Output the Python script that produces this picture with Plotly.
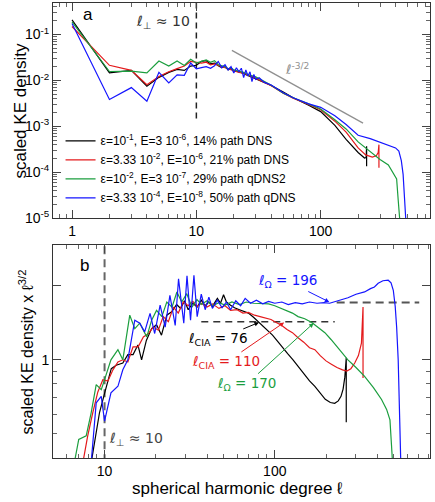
import math
import plotly.graph_objects as go

# ---------------------------------------------------------------------------
# Panel a : scaled KE density vs spherical harmonic degree
# ---------------------------------------------------------------------------
ell_a = [1, 2, 3, 4, 5, 6, 7, 8, 9, 10, 11, 12, 13, 14, 15, 16, 17, 18, 19, 20,
         22, 24, 26, 28, 30, 35, 40, 50, 60, 80, 100, 130, 160, 200]

ke_black_a = [0.21, 0.0147, 0.0166, 0.0075, 0.0117, 0.0150, 0.0174, 0.0166, 0.0206, 0.0215,
              0.026, 0.027, 0.023, 0.024, 0.021, 0.019, 0.020, 0.017, 0.018, 0.016,
              0.0155, 0.014, 0.0128, 0.012, 0.0112,
              0.0093, 0.0078, 0.0056, 0.0042, 0.0029, 0.0021, 0.00105, 0.00052, 0.00027]
ell_black_fin = [225, 232, 234, 234]
ke_black_fin = [2.05e-4, 2.1e-4, 3.7e-4, 1.35e-4]

ke_red_a = [0.15, 0.0214, 0.0166, 0.0081, 0.0122, 0.0155, 0.0181, 0.0206, 0.026, 0.0253,
            0.024, 0.025, 0.022, 0.023, 0.021, 0.020, 0.019, 0.018, 0.017, 0.0165,
            0.015, 0.0145, 0.013, 0.0123, 0.0113,
            0.0094, 0.0077, 0.0053, 0.0041, 0.0030, 0.0023, 0.0013, 0.00075, 0.00034]
ell_red_fin = [230, 260, 280, 290, 294, 294]
ke_red_fin = [2.4e-4, 2.15e-4, 2.3e-4, 2.7e-4, 4.0e-4, 1.26e-4]

ke_green_a = [0.19, 0.0157, 0.016, 0.0146, 0.0266, 0.0206, 0.0266, 0.0213, 0.029, 0.024,
              0.026, 0.028, 0.025, 0.027, 0.022, 0.021, 0.020, 0.018, 0.019, 0.017,
              0.016, 0.015, 0.0135, 0.0128, 0.012,
              0.0096, 0.0079, 0.0053, 0.0042, 0.0031, 0.0024, 0.0014, 0.00088, 0.00046]
ell_green_fin = [250, 300, 350, 408, 420, 434, 440]
ke_green_fin = [2.8e-4, 1.9e-4, 1.45e-4, 7.2e-5, 2.5e-5, 8e-6, 5e-6]

ell_blue_a = [1, 2, 3, 4, 5, 6, 7, 8, 9, 10, 11, 12, 13, 14, 15, 16, 17, 18, 19, 20,
              21, 22, 23, 24, 25, 26, 27, 28, 29, 30, 32, 35, 40, 50, 60, 80, 100, 130, 160, 200,
              250, 300, 350, 400, 425, 445, 460, 472, 485]
ke_blue_a = [0.174, 0.00385, 0.0070, 0.00355, 0.0151, 0.0089, 0.0133, 0.013, 0.024, 0.018,
             0.019, 0.020, 0.0185, 0.021, 0.026, 0.019, 0.022, 0.017, 0.020, 0.0145,
             0.019, 0.0155, 0.0185, 0.0115, 0.017, 0.0125, 0.0155, 0.0095, 0.0135, 0.0105,
             0.0115, 0.0092, 0.0080, 0.0054, 0.0042, 0.0031, 0.0026, 0.0017, 0.0011, 0.00064,
             0.00054, 0.00045, 0.00039, 0.00034, 0.00029, 0.00018, 0.00009, 0.00003, 0.000008]

# ligne guide l^-3/2 et l_perp
ell_guide = [19.3, 219]
ke_guide = [0.0454, 1.18e-3]
ell_perp = 10
ke_perp_a = [0.5, 1.45e-3]

# ---------------------------------------------------------------------------
# Panel b : scaled KE density x l^(3/2)
# ---------------------------------------------------------------------------
ell_black_b = [8.34, 9.34, 10, 10.95, 11.7, 12.8, 13.7, 14.7, 15.7, 16.5, 17.6, 18.9, 20.2, 21.6,
               23.2, 24.8, 26.5, 28, 29.5, 31, 33, 35, 37, 39, 41, 43, 46, 48, 50, 52, 55, 58,
               62, 66, 70, 75, 80, 85, 91, 97, 104, 111, 119, 128, 137, 148, 160, 172, 185, 198,
               212, 225, 236, 245, 252, 258, 263, 263]
s_black_b = [0.38, 0.61, 0.73, 0.92, 0.95, 0.97, 1.05, 1.05, 1.15, 1.00, 1.20, 1.34, 1.39, 1.26,
             1.52, 1.57, 1.68, 1.62, 1.74, 1.60, 1.70, 1.64, 1.75, 1.66, 1.72, 1.65, 1.78, 1.70,
             1.84, 1.72, 1.67, 1.63, 1.60, 1.57, 1.55, 1.49, 1.43, 1.38, 1.32, 1.26, 1.19, 1.12,
             1.06, 1.00, 0.94, 0.88, 0.82, 0.78, 0.73, 0.69, 0.67, 0.665, 0.68, 0.71, 0.76, 0.85,
             1.02, 0.557]

ell_red_b = [7.45, 7.96, 8.53, 9.13, 9.77, 10.46, 11.2, 11.98, 12.8, 13.7, 14.7, 15.75, 16.9, 18.1,
             19.3, 20.7, 22.1, 23.7, 25.4, 27.1, 29.0, 31, 33, 35, 37, 40, 43, 47, 51, 55, 60, 65,
             70, 76, 82, 88, 95, 102, 110, 118, 127, 137, 148, 160, 172, 185, 200, 215, 232, 250,
             265, 280, 295, 310, 323, 330, 330]
s_red_b = [0.38, 0.49, 0.61, 0.74, 0.83, 0.82, 0.91, 0.98, 1.00, 0.98, 1.13, 1.13, 1.24, 1.28,
           1.36, 1.32, 1.50, 1.43, 1.64, 1.55, 1.72, 1.66, 1.73, 1.65, 1.70, 1.64, 1.69, 1.62,
           1.66, 1.59, 1.60, 1.55, 1.56, 1.52, 1.50, 1.48, 1.46, 1.42, 1.38, 1.33, 1.29, 1.23,
           1.18, 1.12, 1.10, 1.04, 0.99, 0.96, 0.93, 0.91, 0.90, 0.92, 0.97, 1.04, 1.17, 1.64, 0.843]

ell_green_b = [6.64, 7.05, 7.8, 8.34, 8.93, 9.56, 10, 10.9, 11.98, 12.8, 14.06, 15.05, 16.1, 17.7,
               18.9, 20.2, 21.7, 23.2, 24.9, 26.6, 28.4, 30.4, 32.6, 34.9, 37, 40, 43, 47, 51, 56,
               62, 68, 75, 83, 92, 100, 109, 118, 127, 137, 150, 165, 180, 197, 214, 240, 269, 300,
               337, 380, 424, 454, 475, 485, 492]
s_green_b = [0.38, 0.474, 0.49, 0.608, 0.792, 0.756, 0.83, 1.00, 1.10, 1.00, 1.52, 1.34, 1.41,
             1.24, 1.45, 1.59, 1.50, 1.72, 1.64, 1.89, 1.72, 1.86, 1.64, 1.76, 1.68, 1.74, 1.66,
             1.71, 1.67, 1.72, 1.68, 1.72, 1.70, 1.70, 1.69, 1.66, 1.62, 1.58, 1.55, 1.50, 1.47,
             1.42, 1.36, 1.29, 1.21, 1.10, 1.00, 0.93, 0.856, 0.77, 0.689, 0.628, 0.57, 0.45, 0.38]

ell_blue_b = [8.34, 8.93, 9.56, 10, 10.9, 11.98, 12.8, 13.7, 15.05, 16.1, 17.2, 18.5, 19.7, 21.2,
              22.7, 24.2, 26, 27.2, 29.2, 30.5, 32, 33.5, 35, 37, 39, 41, 43, 46, 49, 52, 55, 59,
              63, 67, 72, 78, 85, 92, 100, 110, 120, 132, 145, 160, 177, 195, 210, 224, 245, 269,
              300, 337, 365, 385, 405, 432, 464, 482, 497, 510, 520, 531, 542, 550]
s_blue_b = [0.38, 0.668, 0.71, 0.563, 0.733, 0.78, 0.911, 1.00, 1.45, 1.41, 1.30, 1.545, 1.28,
            1.67, 1.36, 1.83, 1.38, 2.14, 1.41, 2.20, 1.45, 2.21, 1.50, 1.85, 1.60, 1.80, 1.62,
            1.75, 1.63, 1.72, 1.60, 1.74, 1.66, 1.78, 1.70, 1.75, 1.69, 1.73, 1.70, 1.72, 1.68,
            1.71, 1.69, 1.72, 1.70, 1.71, 1.70, 1.72, 1.76, 1.79, 1.85, 1.89, 1.95, 1.98, 2.05,
            2.10, 2.11, 2.06, 1.92, 1.65, 1.36, 1.00, 0.572, 0.38]

# paliers horizontaux
ell_palier_haut = [231, 706]
s_palier_haut = 1.71
ell_palier_bas = [37, 225]
s_palier_bas = 1.43

# annotations : (texte, l, valeur, couleur, decalage x, decalage y)
fleches_b = [
    ("ℓ<sub>Ω</sub> = 196", 209, 1.72, "#1515ff", -42, -21),
    ("ℓ<sub>CIA</sub> = 76", 80.7, 1.42, "black", -41, 17),
    ("ℓ<sub>CIA</sub> = 110", 113.5, 1.42, "#e41a1c", -58, 40),
    ("ℓ<sub>Ω</sub> = 170", 169, 1.41, "#1b9e3e", -67, 61),
]

noms = [
    "ε=10<sup>-1</sup>, E=3 10<sup>-6</sup>, 14% path DNS",
    "ε=3.33 10<sup>-2</sup>, E=10<sup>-6</sup>, 21% path DNS",
    "ε=10<sup>-2</sup>, E=3 10<sup>-7</sup>, 29% path qDNS2",
    "ε=3.33 10<sup>-4</sup>, E=10<sup>-8</sup>, 50% path qDNS",
]
couleurs = ["#000000", "#e41a1c", "#1b9e3e", "#1515ff"]

courbes_a = [
    (ell_a + ell_black_fin, ke_black_a + ke_black_fin),
    (ell_a + ell_red_fin, ke_red_a + ke_red_fin),
    (ell_a + ell_green_fin, ke_green_a + ke_green_fin),
    (ell_blue_a, ke_blue_a),
]
courbes_b = [
    (ell_black_b, s_black_b),
    (ell_red_b, s_red_b),
    (ell_green_b, s_green_b),
    (ell_blue_b, s_blue_b),
]

fig = go.Figure()

# guides (dessous des courbes)
fig.add_trace(go.Scatter(x=ell_guide, y=ke_guide, mode="lines", showlegend=False,
                         line=dict(color="#909090", width=1.3), xaxis="x", yaxis="y"))
fig.add_trace(go.Scatter(x=[ell_perp, ell_perp], y=ke_perp_a, mode="lines", showlegend=False,
                         line=dict(color="#222", width=1.5, dash="6px,4px"), xaxis="x", yaxis="y"))
fig.add_trace(go.Scatter(x=[ell_perp, ell_perp], y=[0.3, 3.2], mode="lines", showlegend=False,
                         line=dict(color="#666", width=2, dash="8px,5px"), xaxis="x2", yaxis="y2"))
fig.add_trace(go.Scatter(x=ell_palier_haut, y=[s_palier_haut] * 2, mode="lines", showlegend=False,
                         line=dict(color="#555", width=2, dash="8px,5px"), xaxis="x2", yaxis="y2"))
fig.add_trace(go.Scatter(x=ell_palier_bas, y=[s_palier_bas] * 2, mode="lines", showlegend=False,
                         line=dict(color="#333", width=1.5, dash="7px,5px"), xaxis="x2", yaxis="y2"))

for (x, y), nom, c in zip(courbes_a, noms, couleurs):
    fig.add_trace(go.Scatter(x=x, y=y, mode="lines", name=nom,
                             line=dict(color=c, width=1.2), xaxis="x", yaxis="y"))
for (x, y), c in zip(courbes_b, couleurs):
    fig.add_trace(go.Scatter(x=x, y=y, mode="lines", showlegend=False,
                             line=dict(color=c, width=1.2), xaxis="x2", yaxis="y2"))


def decades(kmin, kmax, mmax=9):
    return [m * 10 ** k for k in range(kmin, kmax + 1) for m in range(2, mmax + 1)]


def axe(rng, domain, anchor, tickvals, ticktext, minor_vals):
    return dict(
        type="log", range=rng, domain=domain, anchor=anchor,
        tickmode="array", tickvals=tickvals, ticktext=ticktext,
        ticks="inside", ticklen=8, tickwidth=1, tickcolor="#444",
        minor=dict(tickmode="array", tickvals=minor_vals, ticks="inside",
                   ticklen=4, tickwidth=1, tickcolor="#666"),
        showline=True, linecolor="#333", linewidth=1, mirror="allticks",
        showgrid=False, zeroline=False, tickfont=dict(size=14, color="black"),
    )


police = "Liberation Sans, Arial, Helvetica, sans-serif"
fig.update_layout(
    width=435, height=502,
    margin=dict(l=53, r=5, t=3, b=44),
    paper_bgcolor="white", plot_bgcolor="white",
    font=dict(family=police, color="black"),
    hovermode=False,
    xaxis=axe([-0.153, 2.879], [0, 1], "y", [1, 10, 100], ["1", "10", "100"],
              [v for v in decades(-1, 2) if 0.7 < v < 760]),
    yaxis=axe([-5, -0.312], [0.527, 1], "x",
              [1e-5, 1e-4, 1e-3, 1e-2, 1e-1],
              ["10<sup>-5</sup>", "10<sup>-4</sup>", "10<sup>-3</sup>",
               "10<sup>-2</sup>", "10<sup>-1</sup>"],
              [v for v in decades(-5, -1) if v < 0.49]),
    xaxis2=axe([0.697, 2.912], [0, 1], "y2", [10, 100], ["10", "100"],
               [v for v in decades(0, 2) if 4.9 < v < 817]),
    yaxis2=axe([-0.4, 0.4675], [0, 0.468], "x2", [1, 2], ["1", ""],
               [0.5, 0.6, 0.7, 0.8, 0.9]),
    legend=dict(x=0.02, y=0.729, xanchor="left", yanchor="top",
                bgcolor="rgba(0,0,0,0)", font=dict(size=12), tracegroupgap=0),
)

annots = [
    dict(text="a", xref="x domain", yref="y domain", x=0.092, y=0.946,
         xanchor="center", yanchor="middle", showarrow=False, font=dict(size=17)),
    dict(text="b", xref="x2 domain", yref="y2 domain", x=0.084, y=0.906,
         xanchor="center", yanchor="middle", showarrow=False, font=dict(size=17)),
    dict(text="ℓ<sub>⊥</sub> ≈ 10", xref="x domain", yref="y domain", x=0.368, y=0.914,
         xanchor="right", yanchor="middle", showarrow=False,
         font=dict(family="DejaVu Sans", size=14, color="#333")),
    dict(text="ℓ<sub>⊥</sub> ≈ 10", xref="x2 domain", yref="y2 domain", x=0.142, y=0.09,
         xanchor="left", yanchor="middle", showarrow=False,
         font=dict(family="DejaVu Sans", size=14, color="#444")),
    dict(text="ℓ<sup>-3/2</sup>", xref="x", yref="y", x=1.81, y=-1.744,
         xanchor="center", yanchor="middle", showarrow=False,
         font=dict(family="DejaVu Sans", size=13, color="#909090")),
    dict(text="scaled KE density", xref="paper", yref="y domain", x=-0.085, y=0.5,
         xanchor="center", yanchor="middle", textangle=-90, showarrow=False,
         font=dict(size=17)),
    dict(text="scaled KE density x ℓ<sup>3/2</sup>", xref="paper", yref="y2 domain",
         x=-0.072, y=0.5, xanchor="center", yanchor="middle", textangle=-90,
         showarrow=False, font=dict(size=16)),
    dict(text="spherical harmonic degree ℓ", xref="x2 domain", yref="paper",
         x=0.49, y=-0.066, xanchor="center", yanchor="middle", showarrow=False,
         font=dict(size=17)),
]
for texte, l, s, c, ax, ay in fleches_b:
    annots.append(dict(
        text=texte, xref="x2", yref="y2", x=math.log10(l), y=math.log10(s),
        ax=ax, ay=ay, showarrow=True, arrowhead=2, arrowsize=0.9, arrowwidth=1,
        arrowcolor=c, font=dict(family="DejaVu Sans", size=13.5, color=c),
    ))
fig.update_layout(annotations=annots)

# la page HTML ajoute une marge de 8 px au body : on la retire
fig.write_html("out.html", config={"displayModeBar": False},
               post_script="document.body.style.margin='0px';")
